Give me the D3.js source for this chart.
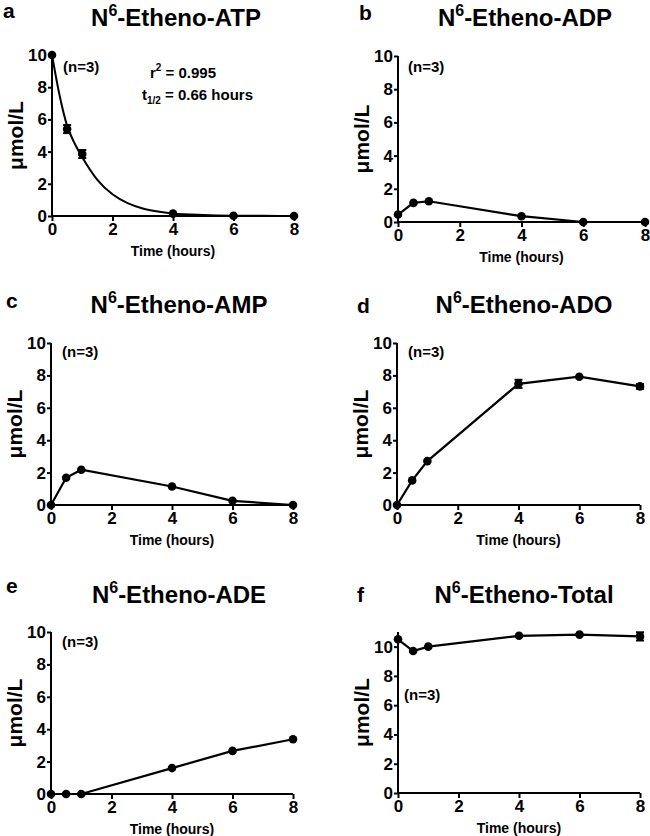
<!DOCTYPE html>
<html><head><meta charset="utf-8">
<script src="https://cdn.jsdelivr.net/npm/d3@7"></script>
<style>
html,body{margin:0;padding:0;background:#fff;}
svg{display:block;font-family:"Liberation Sans",Arial,Helvetica,sans-serif;font-weight:bold;}
</style></head>
<body><svg id="chart" width="650" height="836"></svg>
<script>
// ---- data ----
const times = [0, 0.5, 1, 4, 6, 8];
const atp = [10, 5.4, 3.85, 0.15, 0.02, 0];
const atpErr = [0, 0.25, 0.25, 0, 0, 0];
const adp = [0.45, 1.15, 1.25, 0.35, 0, 0];
const amp = [0, 1.68, 2.18, 1.14, 0.26, 0];
const ado = [0, 1.52, 2.71, 7.48, 7.92, 7.32];
const adoErr = [0, 0, 0, 0.25, 0, 0.15];
const ade = [0, 0, 0, 1.6, 2.66, 3.38];
const total = [10.5, 9.7, 10.0, 10.74, 10.82, 10.7];
const totalErr = [0, 0, 0, 0, 0, 0.28];
// exponential fit curve for ATP
const fitTimes = [0, 0.25, 0.5, 0.75, 1, 1.5, 2, 2.5, 3, 3.5, 4, 5, 6, 7, 8];
const fitValues = [10, 7.5, 5.6, 4.5, 3.65, 2.25, 1.35, 0.8, 0.47, 0.28, 0.16, 0.06, 0.02, 0.01, 0];
const xTicks = [0, 2, 4, 6, 8];
const yTicks = [0, 2, 4, 6, 8, 10];
const titles = ["-Etheno-ATP", "-Etheno-ADP", "-Etheno-AMP", "-Etheno-ADO", "-Etheno-ADE", "-Etheno-Total"];
const letters = ["a", "b", "c", "d", "e", "f"];
const yLabel = "μmol/L";
const xLabel = "Time (hours)";
const nLabel = "(n=3)";

// ---- layout ----
const panels = [
  {vals: atp, err: atpErr, fit: true, x0: 52, x1: 294, yTop: 55, yBot: 216, ymax: 10, titleX: 176, titleY: 26, letX: 3, letY: 18, nX: 63, nY: 72},
  {vals: adp, err: null, x0: 398, x1: 645, yTop: 56, yBot: 222, ymax: 10, titleX: 525, titleY: 26, letX: 359, letY: 20, nX: 408, nY: 72},
  {vals: amp, err: null, x0: 51, x1: 293, yTop: 343, yBot: 505, ymax: 10, titleX: 179, titleY: 313, letX: 6, letY: 308, nX: 62, nY: 357},
  {vals: ado, err: adoErr, x0: 397, x1: 640, yTop: 343, yBot: 505, ymax: 10, titleX: 524, titleY: 313, letX: 357, letY: 313, nX: 408, nY: 357},
  {vals: ade, err: null, x0: 51, x1: 293, yTop: 632, yBot: 794, ymax: 10, titleX: 179, titleY: 603, letX: 6, letY: 593, nX: 62, nY: 647},
  {vals: total, err: totalErr, x0: 398, x1: 640, yTop: 632, yBot: 793, ymax: 11, titleX: 524, titleY: 603, letX: 357, letY: 602, nX: 404, nY: 700}
];

const svg = d3.select("#chart");

panels.forEach((p, i) => {
  const x = d3.scaleLinear().domain([0, 8]).range([p.x0, p.x1]);
  const y = d3.scaleLinear().domain([0, p.ymax]).range([p.yBot, p.yTop]);
  const g = svg.append("g");

  // axes
  const xa = g.append("g").attr("transform", `translate(0,${p.yBot})`)
    .call(d3.axisBottom(x).tickValues(xTicks).tickSize(5).tickPadding(2).tickFormat(d3.format("d")));
  const ya = g.append("g").attr("transform", `translate(${p.x0},0)`)
    .call(d3.axisLeft(y).tickValues(yTicks).tickSize(4).tickPadding(1).tickFormat(d3.format("d")));
  [xa, ya].forEach(a => {
    a.select(".domain").attr("stroke", "#000").attr("stroke-width", 2);
    a.selectAll(".tick line").attr("stroke", "#000").attr("stroke-width", 2);
    a.selectAll(".tick text").attr("fill", "#000").style("font-size", "17px").style("font-weight", "bold");
  });
  xa.select(".domain").attr("d", `M${p.x0},0H${p.x1}`);
  ya.select(".domain").attr("d", `M0,${p.yBot}V${p.yTop}`);

  // axis titles
  g.append("text").attr("x", (p.x0 + p.x1) / 2).attr("y", p.yBot + 40)
    .attr("text-anchor", "middle").style("font-size", "14px").text(xLabel);
  g.append("text").attr("transform", `translate(${p.x0 - 29},${(p.yTop + p.yBot) / 2}) rotate(-90)`)
    .attr("text-anchor", "middle").style("font-size", "21px").text(yLabel);

  // panel title with superscript 6
  const t = g.append("text").attr("x", p.titleX).attr("y", p.titleY)
    .attr("text-anchor", "middle").style("font-size", "24px");
  t.append("tspan").text("N");
  t.append("tspan").attr("dy", -10).style("font-size", "16px").text("6");
  t.append("tspan").attr("dy", 10).text(titles[i]);

  // panel letter
  g.append("text").attr("x", p.letX).attr("y", p.letY).style("font-size", "21px").text(letters[i]);

  // n label
  g.append("text").attr("x", p.nX).attr("y", p.nY).style("font-size", "15px").text(nLabel);

  const pts = times.map((t, k) => ({t, v: p.vals[k], e: p.err ? p.err[k] : 0}));

  if (p.fit) {
    const fit = fitTimes.map((t, k) => [t, fitValues[k]]);
    g.append("path").datum(fit).attr("fill", "none").attr("stroke", "#000").attr("stroke-width", 2)
      .attr("d", d3.line().x(d => x(d[0])).y(d => y(d[1])).curve(d3.curveMonotoneX));
  } else {
    g.append("path").datum(pts).attr("fill", "none").attr("stroke", "#000").attr("stroke-width", 2.2)
      .attr("d", d3.line().x(d => x(d.t)).y(d => y(d.v)));
  }

  // error bars
  pts.filter(d => d.e > 0).forEach(d => {
    const cx = x(d.t);
    g.append("line").attr("x1", cx).attr("x2", cx).attr("y1", y(d.v - d.e)).attr("y2", y(d.v + d.e))
      .attr("stroke", "#000").attr("stroke-width", 2);
    [d.v - d.e, d.v + d.e].forEach(v => {
      g.append("line").attr("x1", cx - 4).attr("x2", cx + 4).attr("y1", y(v)).attr("y2", y(v))
        .attr("stroke", "#000").attr("stroke-width", 2);
    });
  });

  // markers
  g.selectAll("circle.m").data(pts).join("circle").attr("class", "m")
    .attr("cx", d => x(d.t)).attr("cy", d => y(d.v)).attr("r", 4.3).attr("fill", "#000");

  if (p.fit) {
    const r = g.append("text").attr("x", 150).attr("y", 78).style("font-size", "15px");
    r.append("tspan").text("r");
    r.append("tspan").attr("dy", -7).style("font-size", "10px").text("2");
    r.append("tspan").attr("dy", 7).text(" = 0.995");
    const h = g.append("text").attr("x", 142).attr("y", 100).style("font-size", "15px");
    h.append("tspan").text("t");
    h.append("tspan").attr("dy", 4).style("font-size", "10px").text("1/2");
    h.append("tspan").attr("dy", -4).text(" = 0.66 hours");
  }
});
</script></body></html>
